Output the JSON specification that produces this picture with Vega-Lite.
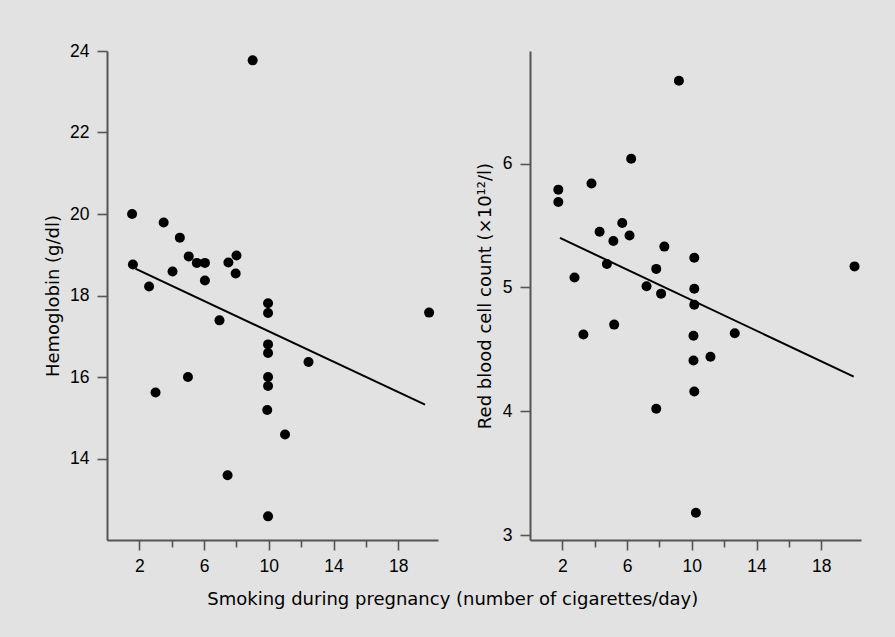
{
  "$schema": "https://vega.github.io/schema/vega-lite/v6.json",
  "background": "#e2e2e2",
  "padding": {"left": 44, "top": 42, "right": 34, "bottom": 30},
  "datasets": {
    "hb": [
      {"cig": 1.55, "val": 20.0}, {"cig": 1.6, "val": 18.76}, {"cig": 2.6, "val": 18.22}, {"cig": 3.5, "val": 19.79},
      {"cig": 4.05, "val": 18.59}, {"cig": 4.5, "val": 19.42}, {"cig": 5.05, "val": 18.96}, {"cig": 5.55, "val": 18.8},
      {"cig": 6.05, "val": 18.8}, {"cig": 6.05, "val": 18.37}, {"cig": 7.5, "val": 18.81}, {"cig": 8.0, "val": 18.98},
      {"cig": 7.95, "val": 18.54}, {"cig": 9.0, "val": 23.77}, {"cig": 9.95, "val": 17.81}, {"cig": 9.95, "val": 17.57},
      {"cig": 19.9, "val": 17.58}, {"cig": 6.95, "val": 17.39}, {"cig": 9.95, "val": 16.8}, {"cig": 9.95, "val": 16.59},
      {"cig": 12.45, "val": 16.37}, {"cig": 5.0, "val": 16.0}, {"cig": 3.0, "val": 15.62}, {"cig": 9.95, "val": 16.0},
      {"cig": 9.95, "val": 15.78}, {"cig": 9.9, "val": 15.19}, {"cig": 11.0, "val": 14.59}, {"cig": 7.45, "val": 13.59},
      {"cig": 9.95, "val": 12.58}
    ],
    "hb_fit": [{"cig": 1.75, "val": 18.66}, {"cig": 19.65, "val": 15.32}],
    "rbc": [
      {"cig": 9.2, "val": 6.67}, {"cig": 6.25, "val": 6.04}, {"cig": 1.75, "val": 5.79}, {"cig": 1.75, "val": 5.69},
      {"cig": 3.8, "val": 5.84}, {"cig": 4.3, "val": 5.45}, {"cig": 5.7, "val": 5.52}, {"cig": 5.15, "val": 5.375},
      {"cig": 6.15, "val": 5.42}, {"cig": 8.3, "val": 5.33}, {"cig": 10.15, "val": 5.24}, {"cig": 20.05, "val": 5.17},
      {"cig": 4.75, "val": 5.19}, {"cig": 7.8, "val": 5.15}, {"cig": 2.75, "val": 5.08}, {"cig": 7.2, "val": 5.01},
      {"cig": 8.1, "val": 4.95}, {"cig": 10.15, "val": 4.99}, {"cig": 10.15, "val": 4.86}, {"cig": 3.3, "val": 4.62},
      {"cig": 5.2, "val": 4.7}, {"cig": 10.1, "val": 4.61}, {"cig": 12.65, "val": 4.63}, {"cig": 10.1, "val": 4.41},
      {"cig": 11.15, "val": 4.44}, {"cig": 10.15, "val": 4.16}, {"cig": 7.8, "val": 4.02}, {"cig": 10.25, "val": 3.18}
    ],
    "rbc_fit": [{"cig": 1.85, "val": 5.4}, {"cig": 20.0, "val": 4.28}]
  },
  "config": {
    "view": {"stroke": null},
    "axis": {
      "grid": false,
      "domainColor": "#555555",
      "domainWidth": 2,
      "tickColor": "#555555",
      "tickWidth": 1.6,
      "tickSize": 10,
      "labelColor": "#000000",
      "labelFont": "Liberation Sans",
      "labelFontSize": 17.5,
      "labelPadding": 8,
      "titleColor": "#000000",
      "titleFont": "DejaVu Sans",
      "titleFontSize": 18,
      "titleFontWeight": "normal",
      "titlePadding": 10
    }
  },
  "title": {
    "text": "Smoking during pregnancy (number of cigarettes/day)",
    "orient": "bottom",
    "anchor": "middle",
    "font": "DejaVu Sans",
    "fontSize": 18,
    "fontWeight": "normal",
    "color": "#000000",
    "offset": 16
  },
  "bounds": "flush",
  "spacing": 92,
  "hconcat": [
    {
      "width": 331,
      "height": 489,
      "layer": [
        {
          "data": {"name": "hb"},
          "mark": {"type": "circle", "size": 100, "opacity": 1, "color": "#000000"},
          "encoding": {
            "x": {"field": "cig", "type": "quantitative", "scale": {"domain": [0, 20.45], "nice": false, "zero": false},
                  "axis": {"title": null, "values": [2, 4, 6, 8, 10, 12, 14, 16, 18], "labelExpr": "datum.value % 4 == 2 ? datum.label : ''",
                           "labelFont": "Liberation Sans", "labelFontSize": 17.5,
                           "tickSize": {"condition": {"test": "datum.value % 4 == 2", "value": 10}, "value": 7}, "labelPadding": 7}},
            "y": {"field": "val", "type": "quantitative", "scale": {"domain": [12, 24], "nice": false, "zero": false},
                  "axis": {"title": "Hemoglobin (g/dl)", "values": [14, 16, 18, 20, 22, 24], "format": "d", "titlePadding": 7,
                           "labelFont": "Liberation Sans", "labelFontSize": 17.5}}
          }
        },
        {
          "data": {"name": "hb_fit"},
          "mark": {"type": "line", "color": "#000000", "strokeWidth": 2},
          "encoding": {
            "x": {"field": "cig", "type": "quantitative"},
            "y": {"field": "val", "type": "quantitative"}
          }
        }
      ]
    },
    {
      "width": 331,
      "height": 489,
      "layer": [
        {
          "data": {"name": "rbc"},
          "mark": {"type": "circle", "size": 100, "opacity": 1, "color": "#000000"},
          "encoding": {
            "x": {"field": "cig", "type": "quantitative", "scale": {"domain": [0, 20.45], "nice": false, "zero": false},
                  "axis": {"title": null, "values": [2, 4, 6, 8, 10, 12, 14, 16, 18], "labelExpr": "datum.value % 4 == 2 ? datum.label : ''",
                           "labelFont": "Liberation Sans", "labelFontSize": 17.5,
                           "tickSize": {"condition": {"test": "datum.value % 4 == 2", "value": 10}, "value": 7}, "labelPadding": 7}},
            "y": {"field": "val", "type": "quantitative", "scale": {"domain": [2.96, 6.91], "nice": false, "zero": false},
                  "axis": {"title": "Red blood cell count (×10¹²/l)", "values": [3, 4, 5, 6], "format": "d", "titlePadding": 8,
                           "labelFont": "Liberation Sans", "labelFontSize": 17.5}}
          }
        },
        {
          "data": {"name": "rbc_fit"},
          "mark": {"type": "line", "color": "#000000", "strokeWidth": 2},
          "encoding": {
            "x": {"field": "cig", "type": "quantitative"},
            "y": {"field": "val", "type": "quantitative"}
          }
        }
      ]
    }
  ]
}
